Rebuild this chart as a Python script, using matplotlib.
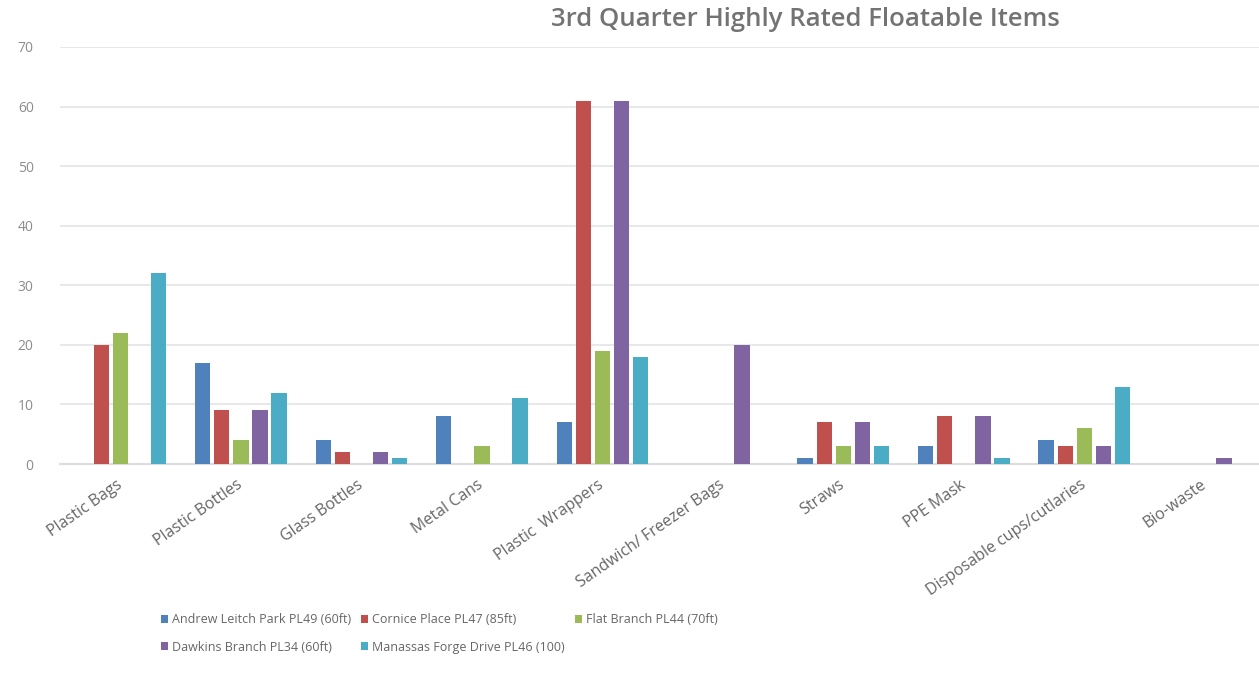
import matplotlib
matplotlib.use("Agg")
import matplotlib.pyplot as plt
import numpy as np

plt.rcParams['font.family'] = ['Open Sans', 'DejaVu Sans']

categories = ["Plastic Bags", "Plastic Bottles", "Glass Bottles", "Metal Cans",
              "Plastic  Wrappers", "Sandwich/ Freezer Bags", "Straws", "PPE Mask",
              "Disposable cups/cutlaries", "Bio-waste"]

andrew_leitch = [0, 17, 4, 8, 7, 0, 1, 3, 4, 0]
cornice_place = [20, 9, 2, 0, 61, 0, 7, 8, 3, 0]
flat_branch = [22, 4, 0, 3, 19, 0, 3, 0, 6, 0]
dawkins_branch = [0, 9, 2, 0, 61, 20, 7, 8, 3, 1]
manassas_forge = [32, 12, 1, 11, 18, 0, 3, 1, 13, 0]

series = {
    "Andrew Leitch Park PL49 (60ft)": (andrew_leitch, "#4F81BD"),
    "Cornice Place PL47 (85ft)": (cornice_place, "#C0504D"),
    "Flat Branch PL44 (70ft)": (flat_branch, "#9BBB59"),
    "Dawkins Branch PL34 (60ft)": (dawkins_branch, "#8064A2"),
    "Manassas Forge Drive PL46 (100)": (manassas_forge, "#4BACC6"),
}

fig = plt.figure(figsize=(12.59, 6.86), dpi=100)
ax = fig.add_axes([0.0477, 0.3236, 0.9523, 0.6079])

x = np.arange(len(categories))
step = 0.158
width = 0.128
handles = {}
for i, (name, (values, color)) in enumerate(series.items()):
    offset = (i - 2) * step
    handles[name] = ax.bar(x + offset, values, width, color=color, label=name, zorder=3)

ax.set_ylim(0, 70)
ax.set_xlim(-0.5, 9.45)
ax.set_yticks(range(0, 71, 10))
ax.yaxis.grid(True, color="#e8e8e8", linewidth=1.5, zorder=0)
ax.tick_params(axis="y", length=0, pad=19, labelsize=10, labelcolor="#8c8c8c")
ax.tick_params(axis="x", length=0, pad=14, labelsize=11.5, labelcolor="#666666")
ax.set_xticks(x)
ax.set_xticklabels(categories, rotation=35, ha="right", va="center",
                   rotation_mode="anchor")
for side in ["top", "right", "left"]:
    ax.spines[side].set_visible(False)
ax.spines["bottom"].set_color("#dddddd")
ax.spines["bottom"].set_linewidth(1.5)

fig.text(0.64, 0.972, "3rd Quarter Highly Rated Floatable Items",
         ha="center", va="center", fontsize=18.5, fontweight="semibold",
         color="#737373")

# row-major legend order: three entries on the first row, two on the second
order = ["Andrew Leitch Park PL49 (60ft)", "Dawkins Branch PL34 (60ft)",
         "Cornice Place PL47 (85ft)", "Manassas Forge Drive PL46 (100)",
         "Flat Branch PL44 (70ft)"]
leg = fig.legend([handles[n] for n in order], order, ncol=3, frameon=False,
                 loc="upper left", bbox_to_anchor=(0.1275, 0.106),
                 fontsize=9, handlelength=0.6, handleheight=0.6,
                 handletextpad=0.3, columnspacing=0.8, labelspacing=1.15,
                 borderaxespad=0, borderpad=0)
for t in leg.get_texts():
    t.set_color("#666666")

fig.savefig("out.png", dpi=100)
